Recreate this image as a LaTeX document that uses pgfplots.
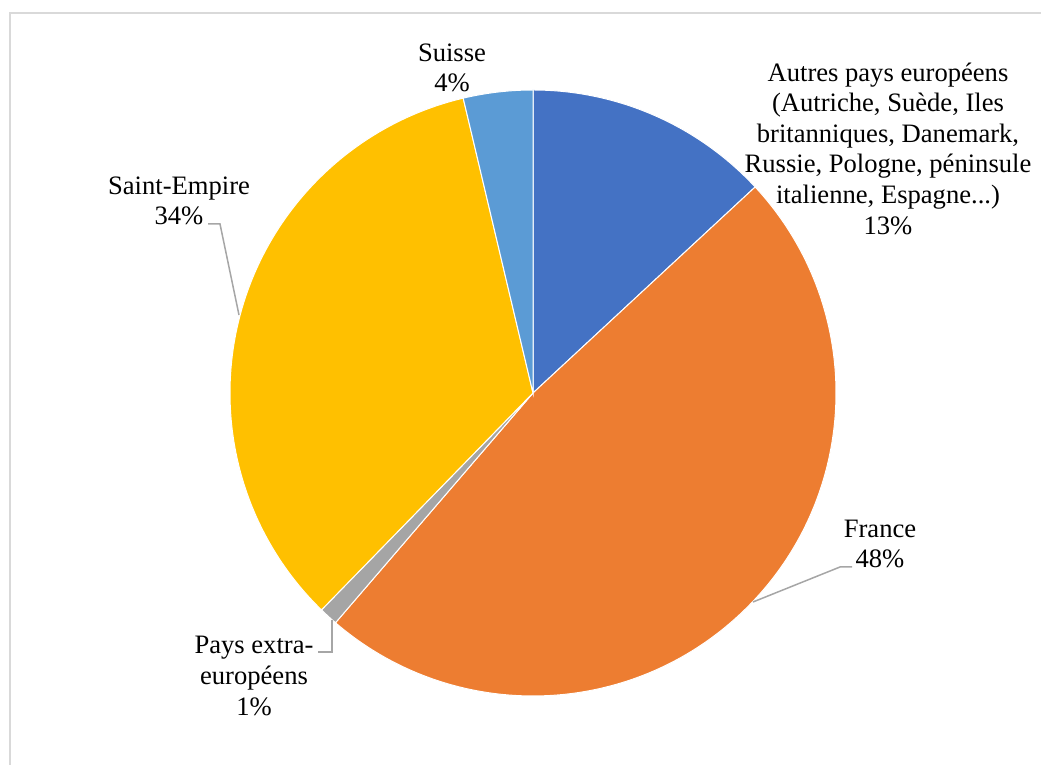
\documentclass[border=0pt]{standalone}
\usepackage{fontspec}
\setmainfont{Liberation Serif}
\usepackage{pgfplots}
\usepackage{pgfplotstable}
\pgfplotsset{compat=1.18}
\definecolor{cA}{HTML}{4472C4}
\definecolor{cF}{HTML}{ED7D31}
\definecolor{cP}{HTML}{A5A5A5}
\definecolor{cS}{HTML}{FFC000}
\definecolor{cU}{HTML}{5B9BD5}
\definecolor{lead}{HTML}{A6A6A6}
\definecolor{frame}{HTML}{D9D9D9}
\pgfplotstableread{
name value
Autres 13.1
France 48.2
Pays 1.0
Saint 34.0
Suisse 3.7
}\piedata
\pgfplotstablegetelem{0}{value}\of\piedata \let\vA\pgfplotsretval
\pgfplotstablegetelem{1}{value}\of\piedata \let\vF\pgfplotsretval
\pgfplotstablegetelem{2}{value}\of\piedata \let\vP\pgfplotsretval
\pgfplotstablegetelem{3}{value}\of\piedata \let\vS\pgfplotsretval
\pgfplotstablegetelem{4}{value}\of\piedata \let\vU\pgfplotsretval
\pgfmathsetmacro\aA{90}
\pgfmathsetmacro\aF{\aA-3.6*\vA}
\pgfmathsetmacro\aP{\aF-3.6*\vF}
\pgfmathsetmacro\aS{\aP-3.6*\vP}
\pgfmathsetmacro\aU{\aS-3.6*\vS}
\pgfmathsetmacro\aE{\aU-3.6*\vU}
\newcommand\lbl{\fontsize{13.3}{15.3}\selectfont}
\begin{document}
\begin{tikzpicture}
\begin{axis}[
  width=520.5pt, height=382.5pt, scale only axis,
  xmin=0, xmax=1041, ymin=0, ymax=765,
  hide axis, clip=false,
]
\path (axis cs:0,0) rectangle (axis cs:1041,765);
\draw[frame, line width=1pt] (axis cs:10,0) -- (axis cs:10,752) -- (axis cs:1041,752);
% slices
\def\R{151.5pt}
\filldraw[fill=cA, draw=white, line width=0.5pt] (axis cs:533,372) -- ++(\aA:\R) arc[start angle=\aA, end angle=\aF, radius=\R] -- cycle;
\filldraw[fill=cF, draw=white, line width=0.5pt] (axis cs:533,372) -- ++(\aF:\R) arc[start angle=\aF, end angle=\aP, radius=\R] -- cycle;
\filldraw[fill=cP, draw=white, line width=0.5pt] (axis cs:533,372) -- ++(\aP:\R) arc[start angle=\aP, end angle=\aS, radius=\R] -- cycle;
\filldraw[fill=cS, draw=white, line width=0.5pt] (axis cs:533,372) -- ++(\aS:\R) arc[start angle=\aS, end angle=\aU, radius=\R] -- cycle;
\filldraw[fill=cU, draw=white, line width=0.5pt] (axis cs:533,372) -- ++(\aU:\R) arc[start angle=\aU, end angle=\aE, radius=\R] -- cycle;
% leader lines
\draw[lead, line width=0.75pt] (axis cs:208,541) -- (axis cs:220,541) -- (axis cs:239,450);
\draw[lead, line width=0.75pt] (axis cs:753,163) -- (axis cs:840,198) -- (axis cs:852,198);
\draw[lead, line width=0.75pt] (axis cs:318,113) -- (axis cs:332,113) -- (axis cs:332,145);
% labels
\node[align=center, font=\lbl] at (axis cs:452,697) {Suisse\\4\%};
\node[align=center, font=\lbl] at (axis cs:888,616.5) {Autres pays européens\\(Autriche, Suède, Iles\\britanniques, Danemark,\\Russie, Pologne, péninsule\\italienne, Espagne...)\\13\%};
\node[align=center, font=\lbl] at (axis cs:179,564) {Saint-Empire\\34\%};
\node[align=center, font=\lbl] at (axis cs:880,221) {France\\48\%};
\node[align=center, font=\lbl] at (axis cs:254,89) {Pays extra-\\européens\\1\%};
\end{axis}
\pgfresetboundingbox
\path (0,0) rectangle (520.5pt,382.5pt);
\end{tikzpicture}
\end{document}
